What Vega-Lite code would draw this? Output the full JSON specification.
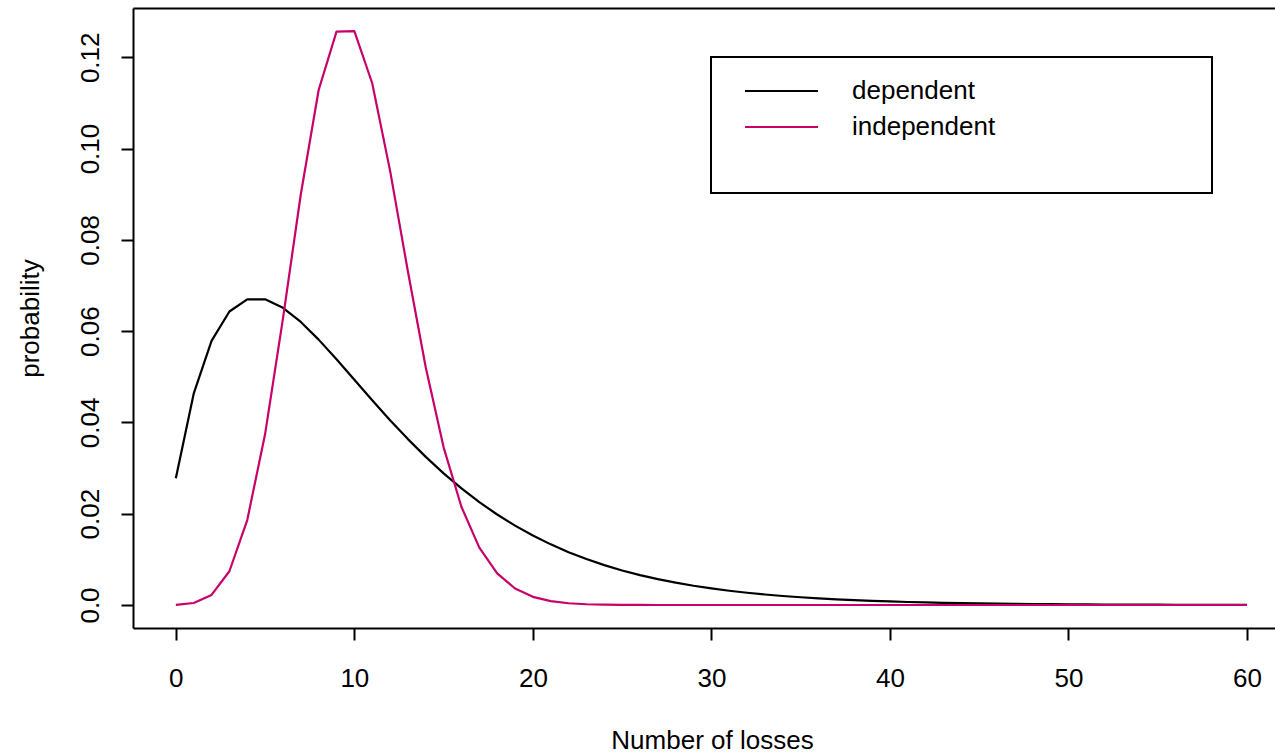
{
  "$schema": "https://vega.github.io/schema/vega-lite/v6.json",
  "width": 1142,
  "height": 620,
  "autosize": "none",
  "padding": {"left": 133, "top": 8, "right": 0, "bottom": 126},
  "background": "white",
  "config": {
    "view": {"stroke": null},
    "font": "Liberation Sans",
    "axis": {"grid": false, "domainColor": "black", "domainWidth": 2, "tickColor": "black", "tickWidth": 2, "labelColor": "black", "titleColor": "black", "labelFont": "Liberation Sans", "titleFont": "Liberation Sans", "labelFontSize": 26, "titleFontSize": 26, "titleFontWeight": "normal"}
  },
  "data": {"values": [
    {"k":0,"series":"dependent","p":0.027778},{"k":1,"series":"dependent","p":0.046296},{"k":2,"series":"dependent","p":0.057870},{"k":3,"series":"dependent","p":0.064300},{"k":4,"series":"dependent","p":0.066980},{"k":5,"series":"dependent","p":0.066980},{"k":6,"series":"dependent","p":0.065119},{"k":7,"series":"dependent","p":0.062018},{"k":8,"series":"dependent","p":0.058142},{"k":9,"series":"dependent","p":0.053835},{"k":10,"series":"dependent","p":0.049349},{"k":11,"series":"dependent","p":0.044863},{"k":12,"series":"dependent","p":0.040501},{"k":13,"series":"dependent","p":0.036347},{"k":14,"series":"dependent","p":0.032453},{"k":15,"series":"dependent","p":0.028847},{"k":16,"series":"dependent","p":0.025542},{"k":17,"series":"dependent","p":0.022537},{"k":18,"series":"dependent","p":0.019824},{"k":19,"series":"dependent","p":0.017389},{"k":20,"series":"dependent","p":0.015216},{"k":21,"series":"dependent","p":0.013284},{"k":22,"series":"dependent","p":0.011573},{"k":23,"series":"dependent","p":0.010063},{"k":24,"series":"dependent","p":0.008735},{"k":25,"series":"dependent","p":0.007571},{"k":26,"series":"dependent","p":0.006552},{"k":27,"series":"dependent","p":0.005662},{"k":28,"series":"dependent","p":0.004887},{"k":29,"series":"dependent","p":0.004213},{"k":30,"series":"dependent","p":0.003628},{"k":31,"series":"dependent","p":0.003121},{"k":32,"series":"dependent","p":0.002682},{"k":33,"series":"dependent","p":0.002303},{"k":34,"series":"dependent","p":0.001976},{"k":35,"series":"dependent","p":0.001693},{"k":36,"series":"dependent","p":0.001450},{"k":37,"series":"dependent","p":0.001241},{"k":38,"series":"dependent","p":0.001062},{"k":39,"series":"dependent","p":0.000907},{"k":40,"series":"dependent","p":0.000774},{"k":41,"series":"dependent","p":0.000662},{"k":42,"series":"dependent","p":0.000564},{"k":43,"series":"dependent","p":0.000482},{"k":44,"series":"dependent","p":0.000410},{"k":45,"series":"dependent","p":0.000349},{"k":46,"series":"dependent","p":0.000298},{"k":47,"series":"dependent","p":0.000253},{"k":48,"series":"dependent","p":0.000215},{"k":49,"series":"dependent","p":0.000183},{"k":50,"series":"dependent","p":0.000156},{"k":51,"series":"dependent","p":0.000132},{"k":52,"series":"dependent","p":0.000112},{"k":53,"series":"dependent","p":0.000095},{"k":54,"series":"dependent","p":0.000081},{"k":55,"series":"dependent","p":0.000069},{"k":56,"series":"dependent","p":0.000058},{"k":57,"series":"dependent","p":0.000050},{"k":58,"series":"dependent","p":0.000042},{"k":59,"series":"dependent","p":0.000036},{"k":60,"series":"dependent","p":0.000030},
    {"k":0,"series":"independent","p":0.000043},{"k":1,"series":"independent","p":0.000436},{"k":2,"series":"independent","p":0.002200},{"k":3,"series":"independent","p":0.007394},{"k":4,"series":"independent","p":0.018615},{"k":5,"series":"independent","p":0.037455},{"k":6,"series":"independent","p":0.062740},{"k":7,"series":"independent","p":0.089991},{"k":8,"series":"independent","p":0.112830},{"k":9,"series":"independent","p":0.125620},{"k":10,"series":"independent","p":0.125747},{"k":11,"series":"independent","p":0.114315},{"k":12,"series":"independent","p":0.095166},{"k":13,"series":"independent","p":0.073056},{"k":14,"series":"independent","p":0.052025},{"k":15,"series":"independent","p":0.034543},{"k":16,"series":"independent","p":0.021480},{"k":17,"series":"independent","p":0.012559},{"k":18,"series":"independent","p":0.006928},{"k":19,"series":"independent","p":0.003617},{"k":20,"series":"independent","p":0.001792},{"k":21,"series":"independent","p":0.000845},{"k":22,"series":"independent","p":0.000380},{"k":23,"series":"independent","p":0.000163},{"k":24,"series":"independent","p":0.000067},{"k":25,"series":"independent","p":0.000027},{"k":26,"series":"independent","p":0.000010},{"k":27,"series":"independent","p":0.000004},{"k":28,"series":"independent","p":0.000001},{"k":29,"series":"independent","p":0},{"k":30,"series":"independent","p":0},{"k":31,"series":"independent","p":0},{"k":32,"series":"independent","p":0},{"k":33,"series":"independent","p":0},{"k":34,"series":"independent","p":0},{"k":35,"series":"independent","p":0},{"k":36,"series":"independent","p":0},{"k":37,"series":"independent","p":0},{"k":38,"series":"independent","p":0},{"k":39,"series":"independent","p":0},{"k":40,"series":"independent","p":0},{"k":41,"series":"independent","p":0},{"k":42,"series":"independent","p":0},{"k":43,"series":"independent","p":0},{"k":44,"series":"independent","p":0},{"k":45,"series":"independent","p":0},{"k":46,"series":"independent","p":0},{"k":47,"series":"independent","p":0},{"k":48,"series":"independent","p":0},{"k":49,"series":"independent","p":0},{"k":50,"series":"independent","p":0},{"k":51,"series":"independent","p":0},{"k":52,"series":"independent","p":0},{"k":53,"series":"independent","p":0},{"k":54,"series":"independent","p":0},{"k":55,"series":"independent","p":0},{"k":56,"series":"independent","p":0},{"k":57,"series":"independent","p":0},{"k":58,"series":"independent","p":0},{"k":59,"series":"independent","p":0},{"k":60,"series":"independent","p":0}
  ]},
  "encoding": {
    "y": {
      "field": "p", "type": "quantitative",
      "scale": {"domain": [-0.00504, 0.1308], "nice": false, "zero": false},
      "axis": {
        "values": [0, 0.02, 0.04, 0.06, 0.08, 0.1, 0.12],
        "labelExpr": "datum.value == 0 ? '0.0' : format(datum.value, '.2f')",
        "tickSize": 12,
        "labelAngle": 270,
        "labelAlign": "center",
        "labelBaseline": "alphabetic",
        "labelPadding": 23,
        "labelOverlap": false,
        "labelFlush": false,
        "title": "probability",
        "titleAngle": 270,
        "titleAlign": "center",
        "titleBaseline": "alphabetic",
        "titleX": -95,
        "titleY": 310
      }
    },
    "color": {
      "field": "series", "type": "nominal",
      "scale": {"domain": ["dependent", "independent"], "range": ["black", "#C8006A"]},
      "legend": {
        "title": null,
        "orient": "none",
        "legendX": 578,
        "legendY": 49,
        "padding": 21,
        "strokeColor": "black",
        "symbolType": "stroke",
        "symbolSize": 5329,
        "symbolStrokeWidth": 2,
        "symbolOffset": 12,
        "labelOffset": 33,
        "labelFont": "Liberation Sans",
        "labelFontSize": 26,
        "labelColor": "black",
        "rowPadding": 10,
        "clipHeight": 26,
        "encoding": {
          "legend": {"strokeWidth": {"value": 2}},
          "entries": {"width": {"value": 459}, "height": {"value": {"expr": "datum.index == 1 ? 58 : 26"}}}
        }
      }
    }
  },
  "layer": [
    {
      "transform": [{"filter": "datum.series == 'dependent'"}],
      "mark": {"type": "line", "strokeWidth": 2.2, "strokeJoin": "round"},
      "encoding": {
        "x": {
          "field": "k", "type": "quantitative",
          "scale": {"domain": [-2.4, 61.57], "nice": false, "zero": false},
          "axis": {
            "orient": "bottom",
            "values": [0, 10, 20, 30, 40, 50, 60],
            "tickSize": 12,
            "labelBaseline": "alphabetic",
            "labelPadding": 46,
            "labelFlush": false,
            "labelOverlap": false,
            "title": "Number of losses",
            "titleBaseline": "alphabetic",
            "titleAlign": "center",
            "titleX": 579,
            "titleY": 120
          }
        }
      }
    },
    {
      "transform": [{"filter": "datum.series == 'independent'"}],
      "mark": {"type": "line", "strokeWidth": 2.2, "strokeJoin": "round"},
      "encoding": {
        "x": {
          "field": "k", "type": "quantitative",
          "scale": {"domain": [-2.4, 61.57], "nice": false, "zero": false},
          "axis": {"orient": "top", "ticks": false, "labels": false, "title": null, "domain": true}
        }
      }
    }
  ],
  "resolve": {"axis": {"x": "independent"}}
}
